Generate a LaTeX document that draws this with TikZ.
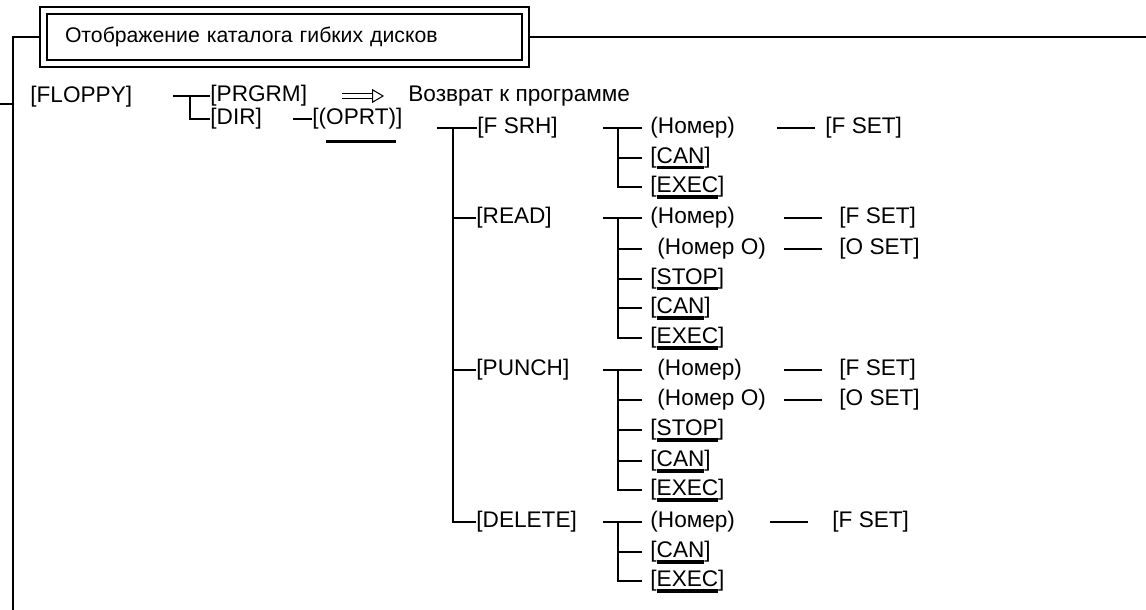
\documentclass[tikz,border=0pt]{standalone}
\usepackage{fontspec}
\setmainfont{Liberation Sans}
\usetikzlibrary{positioning, calc, fit, arrows.meta}

% key name with a thick rule under it
\newcommand\keyul[2][-3pt]{\setbox0\hbox{#2}\rlap{\rule[#1]{\wd0}{1.9pt}}\box0}

\begin{document}
\begin{tikzpicture}[x=0.5pt, y=-0.5pt,
    lbl/.style={anchor=west, inner sep=0pt, text height=0.75em, text depth=0.2em, font=\fontsize{11.3}{13}\selectfont},
    item/.style={lbl, inner xsep=4pt},
    itemin/.style={lbl, inner xsep=7.5pt},
    wire/.style={line width=1pt},
    frame/.style={line width=0.75pt},
    implies/.style={double, double distance=1.8pt, line width=0.5pt, -{Triangle[open, length=6pt, width=7pt]}},
  ]
  \useasboundingbox (0,0) rectangle (1146,610);

  % title
  \node[draw, line width=0.6pt, inner xsep=9pt, text width=219.5pt, minimum height=23pt, align=left,
        font=\fontsize{10.6}{13}\selectfont] (title) at (284.5,37) {Отображение каталога гибких дисков};
  \node[draw, line width=1pt, fit=(title), inner sep=3.2pt] (titlebox) {};
  \coordinate (leftend) at (13,610);
  \coordinate (rightend) at (1146,37);
  \coordinate (stub) at (0,104);
  \draw[frame] (titlebox.west) -| (leftend);
  \draw[frame] (titlebox.east) -- (titlebox.east -| rightend);
  \draw[frame] (stub) -- (stub -| leftend);

  % top level
  \node[lbl] (floppy) at (30,97) {[FLOPPY]};
  \node[lbl] (prgrm) at (210,96) {[PRGRM]};
  \node[lbl] (dir) at (210,119) {[DIR]};
  \node[lbl] (oprt) at (312,119) {[(\keyul[-9.5pt]{OPRT)}]};
  \node[lbl] (ret) at (408,96) {Возврат к программе};

  \coordinate (jfl) at (190,96);
  \draw[wire] (jfl) ++(-17,0) -- (prgrm.west);
  \draw[wire] (jfl) |- (dir.west);
  \draw[wire] (oprt.west) -- ++(-19,0);
  \draw[implies, shorten <=17.5pt, shorten >=12pt] (prgrm.east) -- (ret.west);

  % operations
  \node[lbl] (fsrh) at (477,128) {[F SRH]};
  \node[lbl] (read) at (476,218) {[READ]};
  \node[lbl] (punch) at (476,370) {[PUNCH]};
  \node[lbl] (delete) at (476,522) {[DELETE]};
  \coordinate (jop) at (453,128);
  \draw[wire] (jop) ++(-16,0) -- (fsrh.west);
  \foreach \n in {read, punch, delete}
    \draw[wire] (jop) |- (\n.west);

  % F SRH
  \node[item] (fsrhno) at (642,128) {(Номер)};
  \node[item] (fsrhcan) at (642,158) {[\keyul{CAN}]};
  \node[item] (fsrhexec) at (642,187) {[\keyul{EXEC}]};
  \node[lbl] (fsrhfset) at (825,128) {[F SET]};
  \coordinate (jfs) at (618,128);
  \draw[wire] (jfs) ++(-15,0) -- (fsrhno.west);
  \foreach \n in {fsrhcan, fsrhexec}
    \draw[wire] (jfs) |- (\n.west);
  \draw[wire] (fsrhfset.west) ++(-10,0) -- ++(-38,0);

  % READ
  \node[item] (readno) at (642,218) {(Номер)};
  \node[itemin] (readnoo) at (642,249) {(Номер O)};
  \foreach \k/\t/\y in {stop/STOP/279, can/CAN/308, exec/EXEC/338}
    \node[item] (read\k) at (642,\y) {[\keyul{\t}]};
  \node[lbl] (readfset) at (839,218) {[F SET]};
  \node[lbl] (readoset) at (839,249) {[O SET]};
  \coordinate (jrd) at (618,218);
  \draw[wire] (jrd) ++(-15,0) -- (readno.west);
  \foreach \n in {readnoo, readstop, readcan, readexec}
    \draw[wire] (jrd) |- (\n.west);
  \foreach \n in {readfset, readoset}
    \draw[wire] (\n.west) ++(-17,0) -- ++(-38,0);

  % PUNCH
  \node[itemin] (punchno) at (642,370) {(Номер)};
  \node[itemin] (punchnoo) at (642,400) {(Номер O)};
  \foreach \k/\t/\y in {stop/STOP/430, can/CAN/461, exec/EXEC/490}
    \node[item] (punch\k) at (642,\y) {[\keyul{\t}]};
  \node[lbl] (punchfset) at (839,370) {[F SET]};
  \node[lbl] (punchoset) at (839,400) {[O SET]};
  \coordinate (jpn) at (618,370);
  \draw[wire] (jpn) ++(-15,0) -- (punchno.west);
  \foreach \n in {punchnoo, punchstop, punchcan, punchexec}
    \draw[wire] (jpn) |- (\n.west);
  \foreach \n in {punchfset, punchoset}
    \draw[wire] (\n.west) ++(-17,0) -- ++(-38,0);

  % DELETE
  \node[item] (deleteno) at (642,522) {(Номер)};
  \node[item] (deletecan) at (642,552) {[\keyul{CAN}]};
  \node[item] (deleteexec) at (642,581) {[\keyul{EXEC}]};
  \node[lbl] (deletefset) at (832,522) {[F SET]};
  \coordinate (jdl) at (618,522);
  \draw[wire] (jdl) ++(-15,0) -- (deleteno.west);
  \foreach \n in {deletecan, deleteexec}
    \draw[wire] (jdl) |- (\n.west);
  \draw[wire] (deletefset.west) ++(-24,0) -- ++(-38,0);
\end{tikzpicture}
\end{document}
